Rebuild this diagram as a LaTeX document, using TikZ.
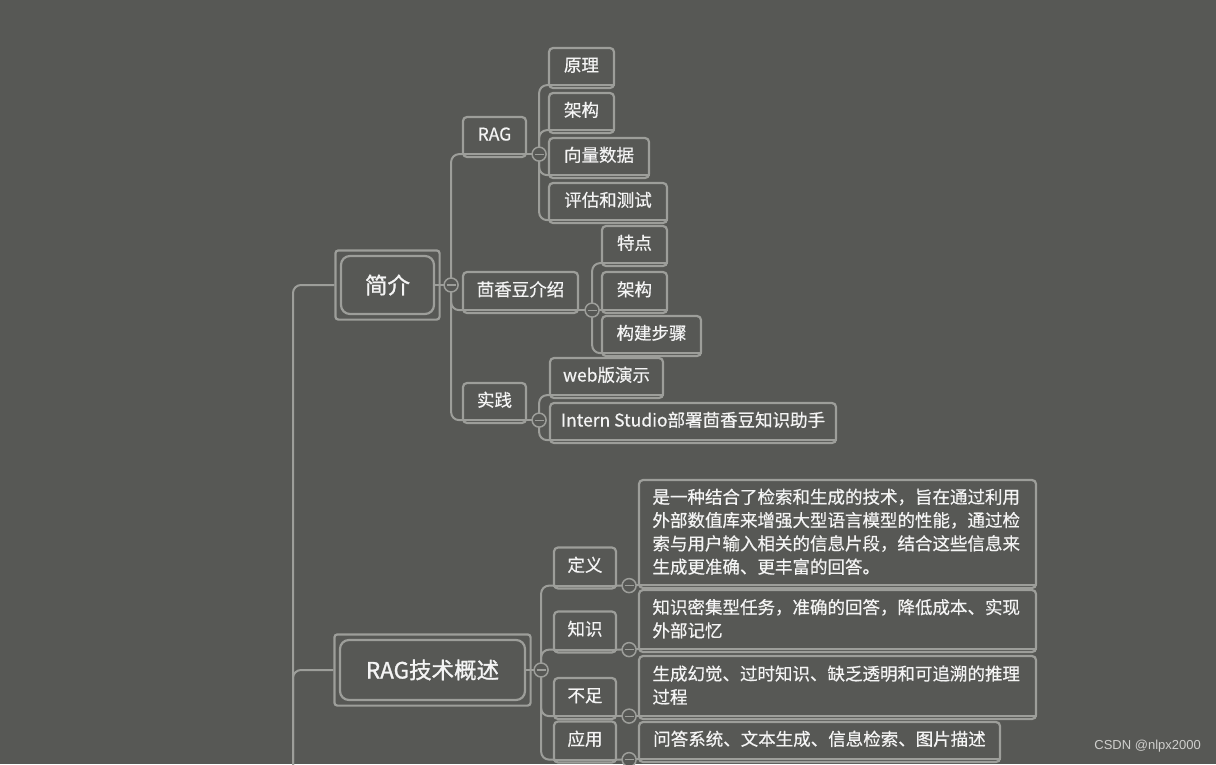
\documentclass[tikz,border=0pt]{standalone}
\usepackage{fontspec}
\setmainfont{Noto Sans CJK SC}[FakeBold=0.5]
\newfontfamily\mainfnt{Noto Sans CJK SC}[FakeBold=1.2]
\newfontfamily\wmfont{Liberation Sans}
\usetikzlibrary{fit}
\definecolor{bgc}{HTML}{575855}
\definecolor{lnc}{HTML}{9D9E9A}
\definecolor{txc}{HTML}{F4F4F4}
\definecolor{wmc}{HTML}{CFCFCD}
\tikzset{
 conn/.style={draw=lnc, line width=2pt, rounded corners=8pt},
 uline/.style={draw=lnc, line width=2pt},
 sbox/.style={draw=lnc, line width=2.2pt, rounded corners=4pt, text=txc, font=\fontsize{17.5}{23.3}\selectfont, minimum height=40pt, inner sep=0pt, text height=14pt, text depth=7pt},
 mbox/.style={draw=lnc, line width=2.2pt, rounded corners=9pt, text=txc, font=\mainfnt\fontsize{22.5}{26}\selectfont, inner sep=0pt},
 obox/.style={draw=lnc, line width=2.2pt, rounded corners=3pt, inner sep=4.5pt},
 tbox/.style={sbox, align=left, text width=370pt, inner xsep=13.5pt, text height=, text depth=},
 cc/.style={circle, draw=lnc, fill=bgc, line width=1.5pt, minimum size=14pt, inner sep=0pt,
   path picture={\draw[lnc, line width=1.2pt] ([xshift=-4.5pt]path picture bounding box.center) -- ([xshift=4.5pt]path picture bounding box.center);}},
}
\newcommand\boxul[1]{\draw[uline] ([yshift=4pt]#1.south west) -- ([yshift=4pt]#1.south east);}
\begin{document}
\begin{tikzpicture}[x=1pt,y=-1pt]
\fill[bgc] (0,0) rectangle (1216,764);
\useasboundingbox (0,0) rectangle (1216,764);

% main nodes
\node[mbox, minimum width=93pt, minimum height=58pt] (jj) at (387.5,285) {简介};
\node[obox, fit=(jj)] (jjo) {};
\node[mbox, minimum width=185pt, minimum height=60pt] (rt) at (432.5,670) {RAG技术概述};
\node[obox, fit=(rt)] (rto) {};

% level 2
\node[sbox, minimum width=63pt] (rag) at (494.5,137) {RAG};
\node[sbox, minimum width=115pt, minimum height=41pt] (hxd) at (520.5,292.5) {茴香豆介绍};
\node[sbox, minimum width=63pt] (sj) at (494.5,403) {实践};

% level 3
\node[sbox, minimum width=65pt] (yl) at (581.5,68) {原理};
\node[sbox, minimum width=65pt] (jg) at (581.5,113) {架构};
\node[sbox, minimum width=100pt] (xl) at (599,158) {向量数据};
\node[sbox, minimum width=118pt] (pg) at (608,203) {评估和测试};
\node[sbox, minimum width=65pt] (td) at (634.5,246) {特点};
\node[sbox, minimum width=65pt, minimum height=41pt] (jg2) at (634.5,292.5) {架构};
\node[sbox, minimum width=99pt] (gj) at (651.5,336) {构建步骤};
\node[sbox, minimum width=113pt] (web) at (606.5,378) {web版演示};
\node[sbox, minimum width=286pt] (it) at (693,423) {Intern Studio部署茴香豆知识助手};

% RAG overview children
\node[sbox, minimum width=62pt, minimum height=41pt] (dy) at (585,568) {定义};
\node[sbox, minimum width=62pt, minimum height=41pt] (zs) at (585,632) {知识};
\node[sbox, minimum width=62pt, minimum height=41pt] (bz) at (585,698.5) {不足};
\node[sbox, minimum width=62pt, minimum height=41pt] (yy) at (585,742) {应用};

\node[tbox, minimum height=108pt] (dyT) at (837.5,534) {是一种结合了检索和生成的技术，旨在通过利用\\外部数值库来增强大型语言模型的性能，通过检\\索与用户输入相关的信息片段，结合这些信息来\\生成更准确、更丰富的回答。\rule[-6pt]{0pt}{1pt}};
\node[tbox, minimum height=62pt] (zsT) at (837.5,621) {知识密集型任务，准确的回答，降低成本、实现\\外部记忆\rule[-6pt]{0pt}{1pt}};
\node[tbox, minimum height=63pt] (bzT) at (837.5,687.5) {生成幻觉、过时知识、缺乏透明和可追溯的推理\\过程\rule[-6pt]{0pt}{1pt}};
\node[sbox, minimum width=361pt] (yyT) at (819.5,742) {问答系统、文本生成、信息检索、图片描述};

% collapse circle positions
\coordinate (c0) at ([xshift=16pt]jj.east);
\coordinate (cr) at ([xshift=15pt]rt.east);
\coordinate (crag) at ([xshift=12pt,yshift=4pt]rag.south east);
\coordinate (chxd) at ([xshift=13pt,yshift=4pt]hxd.south east);
\coordinate (csj) at ([xshift=12pt,yshift=4pt]sj.south east);
\coordinate (cdy) at ([xshift=12pt,yshift=4pt]dy.south east);
\coordinate (czs) at ([xshift=12pt,yshift=4pt]zs.south east);
\coordinate (cbz) at ([xshift=12pt,yshift=4pt]bz.south east);
\coordinate (cyy) at ([xshift=12pt,yshift=4pt]yy.south east);
\coordinate (tbot) at (293,766);

% trunk
\draw[conn] (jjo.west) -| (tbot);
\draw[conn] (rto.west) -| (tbot);
\draw[conn] (jj.east) -- (c0);
\draw[conn] (rt.east) -- (cr);

% 简介 branches
\draw[conn] (c0) |- ([yshift=4pt]rag.south west);
\draw[conn] (c0) |- ([yshift=4pt]hxd.south west);
\draw[conn] (c0) |- ([yshift=4pt]sj.south west);
\boxul{rag}\boxul{hxd}\boxul{sj}
\draw[uline] ([yshift=4pt]rag.south east) -- (crag);
\draw[uline] ([yshift=4pt]hxd.south east) -- (chxd);
\draw[uline] ([yshift=4pt]sj.south east) -- (csj);

\draw[conn] (crag) |- ([yshift=4pt]yl.south west);
\draw[conn] (crag) |- ([yshift=4pt]jg.south west);
\draw[conn] (crag) |- ([yshift=4pt]xl.south west);
\draw[conn] (crag) |- ([yshift=4pt]pg.south west);
\draw[conn] (chxd) |- ([yshift=4pt]td.south west);
\draw[conn] (chxd) -- ([yshift=4pt]jg2.south west);
\draw[conn] (chxd) |- ([yshift=4pt]gj.south west);
\draw[conn] (csj) |- ([yshift=4pt]web.south west);
\draw[conn] (csj) |- ([yshift=4pt]it.south west);
\boxul{yl}\boxul{jg}\boxul{xl}\boxul{pg}\boxul{td}\boxul{jg2}\boxul{gj}\boxul{web}\boxul{it}

% RAG技术概述 branches
\draw[conn] (cr) |- ([yshift=4pt]dy.south west);
\draw[conn] (cr) |- ([yshift=4pt]zs.south west);
\draw[conn] (cr) |- ([yshift=4pt]bz.south west);
\draw[conn] (cr) |- ([yshift=4pt]yy.south west);
\boxul{dy}\boxul{zs}\boxul{bz}\boxul{yy}
\draw[uline] ([yshift=4pt]dy.south east) -- ([yshift=4pt]dyT.south west);
\draw[uline] ([yshift=4pt]zs.south east) -- ([yshift=4pt]zsT.south west);
\draw[uline] ([yshift=4pt]bz.south east) -- ([yshift=4pt]bzT.south west);
\draw[uline] ([yshift=4pt]yy.south east) -- ([yshift=4pt]yyT.south west);
\boxul{dyT}\boxul{zsT}\boxul{bzT}\boxul{yyT}

% collapse circles
\foreach \c in {c0,cr,crag,chxd,csj,cdy,czs,cbz,cyy}{\node[cc] (\c-n) at (\c) {};}

% watermark
\node[anchor=east, text=wmc, font=\wmfont\fontsize{13}{13}\selectfont, inner sep=0pt] (wm) at (1201,746) {CSDN @nlpx2000};
\end{tikzpicture}
\end{document}
